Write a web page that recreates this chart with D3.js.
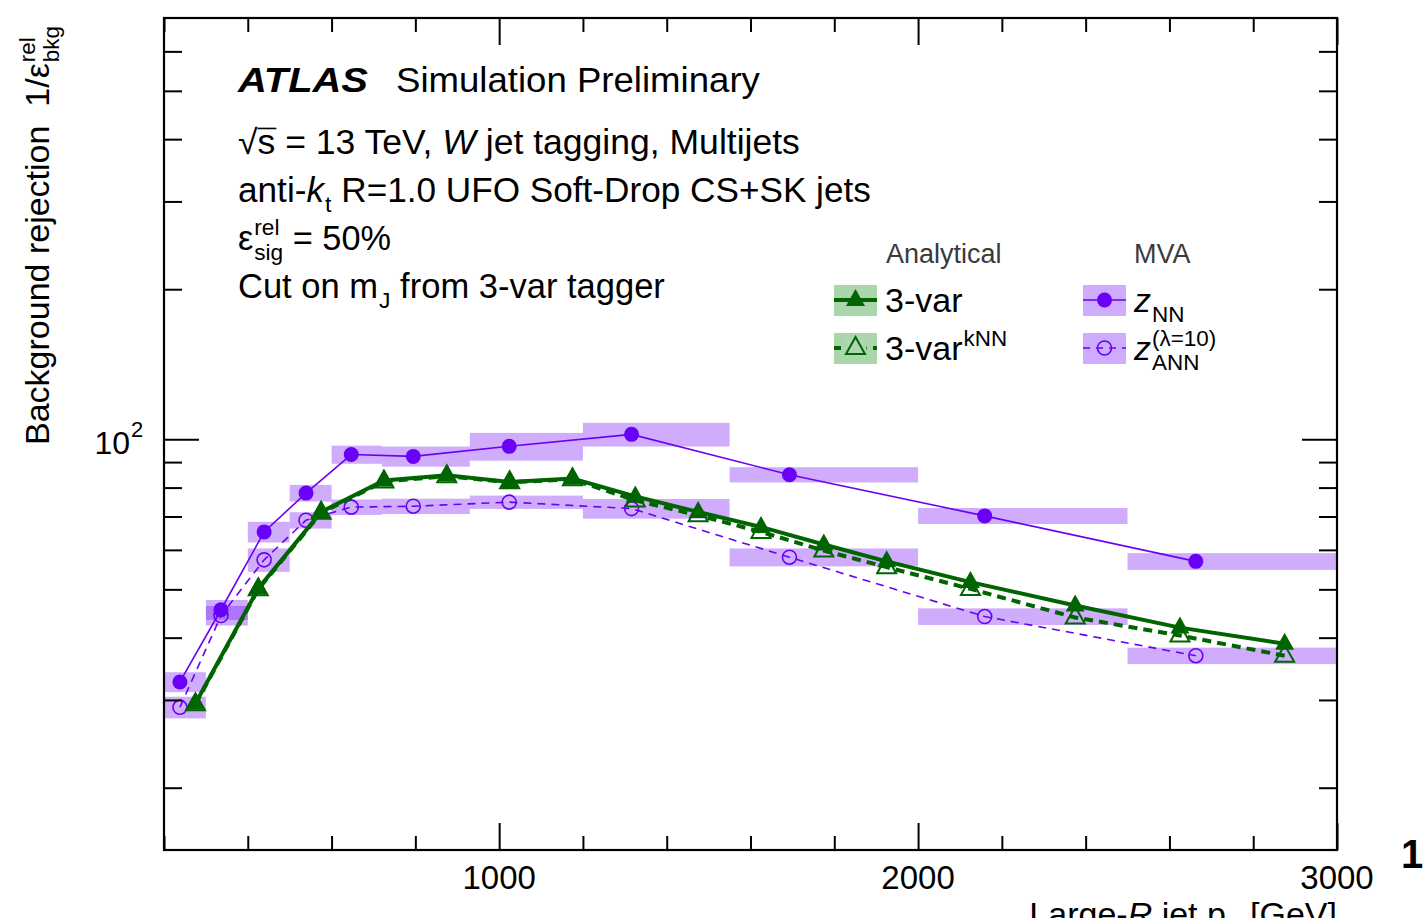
<!DOCTYPE html>
<html>
<head>
<meta charset="utf-8">
<script src="https://cdn.jsdelivr.net/npm/d3@7"></script>
<style>
  body { margin: 0; background: #fff; }
  text { font-family: "Liberation Sans", Arial, Helvetica, sans-serif; white-space: pre; }
</style>
</head>
<body>
<script>
// bins of the MVA taggers (pT edges in GeV) and mean pT per bin
var mvaEdges = [200, 300, 400, 500, 600, 720, 930, 1200, 1550, 2000, 2500, 3000];
var mvaPt = [238, 336, 439, 539, 647, 795, 1024, 1316, 1693, 2159, 2663];
var zNN = [32.6, 45.5, 65.2, 78.0, 93.2, 92.4, 96.8, 102.3, 84.9, 70.2, 56.9];
var zNNerr = [1.5, 2.1, 3.1, 3.0, 3.9, 4.3, 6.2, 5.6, 3.0, 2.6, 2.2];
var zANN = [29.0, 44.3, 57.3, 68.8, 73.1, 73.4, 74.8, 72.6, 58.0, 44.1, 36.8];
var zANNerr = [1.45, 2.0, 3.1, 2.6, 2.6, 2.6, 2.3, 3.3, 2.4, 1.7, 1.4];

// analytical taggers
var anaPt = [275, 425, 575, 725, 875, 1025, 1175, 1325, 1475, 1625, 1775, 1925, 2125, 2375, 2625, 2875];
var threeVar = [29.5, 50.2, 71.5, 82.7, 84.7, 82.1, 83.4, 76.8, 71.5, 66.7, 61.5, 56.9, 51.7, 46.4, 41.9, 38.9];
var threeVarKNN = [29.4, 50.0, 71.2, 82.3, 84.3, 82.0, 83.1, 75.4, 70.4, 65.2, 59.8, 55.4, 50.1, 43.9, 40.4, 36.8];

// ticks
var xMajor = [1000, 2000, 3000];
var xMinor = [200, 400, 600, 800, 1200, 1400, 1600, 1800, 2200, 2400, 2600, 2800];
var xLabels = ['1000', '2000', '3000'];
var yMajor = [100];
var yMinor = [20, 30, 40, 50, 60, 70, 80, 90, 200, 300, 400, 500, 600];

var purple = '#6a00f5';
var green = '#006400';

var svg = d3.select('body').append('svg').attr('width', 1425).attr('height', 918);

var x = d3.scaleLinear().domain([200, 3000]).range([164, 1337]);
var y = d3.scaleLog().domain([15, 700]).range([850, 18]);

// text helper with sub/superscripts
function rich(g, x0, y0, size, pieces) {
    var cx = x0;
    pieces.forEach(function (p) {
        if (p.t) {
            var t = g.append('text').attr('x', cx).attr('y', y0).attr('font-size', size).attr('xml:space', 'preserve').text(p.t);
            if (p.it) t.attr('font-style', 'italic');
            if (p.b) t.attr('font-weight', 'bold');
            var w = t.node().getComputedTextLength();
            if (p.over) {
                g.append('line').attr('x1', cx).attr('x2', cx + w + 1)
                    .attr('y1', y0 - size * 0.74).attr('y2', y0 - size * 0.74)
                    .attr('stroke', 'black').attr('stroke-width', 1.6);
            }
            cx += w;
        }
        var adv = 0;
        if (p.sup) {
            var s = g.append('text').attr('x', cx + 1).attr('y', y0 - size * 0.42).attr('font-size', size * 0.66).text(p.sup);
            adv = Math.max(adv, s.node().getComputedTextLength() + 1);
        }
        if (p.sub) {
            var b = g.append('text').attr('x', cx + 1).attr('y', y0 + size * 0.3).attr('font-size', size * 0.66).text(p.sub);
            adv = Math.max(adv, b.node().getComputedTextLength() + 1);
        }
        cx += adv;
    });
    return cx;
}

// one line of label text, stretched sideways to end at xEnd
function labelLine(x0, y0, size, pieces, xEnd) {
    var g = svg.append('g');
    var end = rich(g, x0, y0, size, pieces);
    var k = (xEnd - x0) / (end - x0);
    g.attr('transform', 'translate(' + x0 + ',0) scale(' + k + ',1) translate(' + (-x0) + ',0)');
}

// error boxes
function boxes(vals, errs) {
    svg.append('g').selectAll('rect').data(vals).enter().append('rect')
        .attr('x', function (d, i) { return x(mvaEdges[i]); })
        .attr('width', function (d, i) { return x(mvaEdges[i + 1]) - x(mvaEdges[i]); })
        .attr('y', function (d, i) { return y(d + errs[i]); })
        .attr('height', function (d, i) { return y(d - errs[i]) - y(d + errs[i]); })
        .attr('fill', purple).attr('fill-opacity', 0.32);
}
boxes(zNN, zNNerr);
boxes(zANN, zANNerr);

var line = d3.line().x(function (d) { return x(d[0]); }).y(function (d) { return y(d[1]); });

function series(xs, ys, color, width, dash) {
    svg.append('path').datum(d3.zip(xs, ys)).attr('d', line)
        .attr('fill', 'none').attr('stroke', color).attr('stroke-width', width)
        .attr('stroke-dasharray', dash);
}

var tri = 'M0,-11L9.5,6L-9.5,6Z';

// MVA
series(mvaPt, zANN, purple, 1.6, '8,6');
svg.append('g').selectAll('circle').data(d3.zip(mvaPt, zANN)).enter().append('circle')
    .attr('cx', function (d) { return x(d[0]); }).attr('cy', function (d) { return y(d[1]); })
    .attr('r', 7).attr('fill', 'none').attr('stroke', purple).attr('stroke-width', 1.6);
series(mvaPt, zNN, purple, 1.6, null);
svg.append('g').selectAll('circle').data(d3.zip(mvaPt, zNN)).enter().append('circle')
    .attr('cx', function (d) { return x(d[0]); }).attr('cy', function (d) { return y(d[1]); })
    .attr('r', 7.5).attr('fill', purple);

// analytical
series(anaPt, threeVarKNN, green, 4, '9,6');
svg.append('g').selectAll('path').data(d3.zip(anaPt, threeVarKNN)).enter().append('path')
    .attr('d', tri).attr('transform', function (d) { return 'translate(' + x(d[0]) + ',' + y(d[1]) + ')'; })
    .attr('fill', 'none').attr('stroke', green).attr('stroke-width', 2);
series(anaPt, threeVar, green, 4, null);
svg.append('g').selectAll('path').data(d3.zip(anaPt, threeVar)).enter().append('path')
    .attr('d', tri).attr('transform', function (d) { return 'translate(' + x(d[0]) + ',' + y(d[1]) + ')'; })
    .attr('fill', green);

// axes (ticks on all sides, pointing inwards)
function ticks(axis, scale, vals, size, tr) {
    var g = svg.append('g').attr('transform', tr)
        .call(axis(scale).tickValues(vals).tickSize(size).tickFormat(''));
    g.select('.domain').remove();
    g.selectAll('line').attr('stroke', 'black').attr('stroke-width', 2);
}
ticks(d3.axisBottom, x, xMajor, -27, 'translate(0,850)');
ticks(d3.axisBottom, x, xMinor, -14, 'translate(0,850)');
ticks(d3.axisTop, x, xMajor, -27, 'translate(0,18)');
ticks(d3.axisTop, x, xMinor, -14, 'translate(0,18)');
ticks(d3.axisLeft, y, yMajor, -35, 'translate(164,0)');
ticks(d3.axisLeft, y, yMinor, -18, 'translate(164,0)');
ticks(d3.axisRight, y, yMajor, -35, 'translate(1337,0)');
ticks(d3.axisRight, y, yMinor, -18, 'translate(1337,0)');

svg.append('rect').attr('x', 164).attr('y', 18).attr('width', 1337 - 164).attr('height', 850 - 18)
    .attr('fill', 'none').attr('stroke', 'black').attr('stroke-width', 2.2);

// tick labels
svg.append('g').selectAll('text').data(xMajor).enter().append('text')
    .attr('x', function (d) { return x(d); }).attr('y', 889).attr('text-anchor', 'middle')
    .attr('font-size', 33).text(function (d, i) { return xLabels[i]; });
var yl = svg.append('g');
yl.append('text').attr('x', 130).attr('y', 454).attr('text-anchor', 'end').attr('font-size', 32).text('10');
yl.append('text').attr('x', 131).attr('y', 437).attr('font-size', 22).text('2');

// axis titles
var yt = svg.append('g').attr('transform', 'translate(49,445) rotate(-90)');
rich(yt, 0, 0, 34, [{ t: 'Background rejection  1/ε', sup: 'rel', sub: 'bkg' }]);

var xt = svg.append('g');
var xEnd = rich(xt, 0, 926, 34, [{ t: 'Large-' }, { t: 'R', it: true }, { t: ' jet p', sub: 'T' }, { t: ' [GeV]' }]);
xt.attr('transform', 'translate(' + (1337 - xEnd) + ',0)');

svg.append('text').attr('x', 1401).attr('y', 868).attr('font-size', 40).attr('font-weight', 'bold').text('1');

// labels inside the frame
labelLine(238, 92, 35, [{ t: 'ATLAS', b: true, it: true }], 368);
labelLine(396, 92, 34.5, [{ t: 'Simulation Preliminary' }], 760);
labelLine(238, 154, 34.5, [{ t: '√' }, { t: 's', over: true }, { t: ' = 13 TeV, ' }, { t: 'W', it: true }, { t: ' jet tagging, Multijets' }], 800);
labelLine(238, 202, 34.5, [{ t: 'anti-' }, { t: 'k', it: true, sub: 't' }, { t: ' R=1.0 UFO Soft-Drop CS+SK jets' }], 871);
labelLine(238, 250, 34.5, [{ t: 'ε', sup: 'rel', sub: 'sig' }, { t: ' = 50%' }], 391);
labelLine(238, 298, 34.5, [{ t: 'Cut on m', sub: 'J' }, { t: ' from 3-var tagger' }], 665);

// legend
var leg = svg.append('g');
leg.append('text').attr('x', 886).attr('y', 263).attr('font-size', 27).attr('fill', '#3a3a3a').text('Analytical');
leg.append('text').attr('x', 1134).attr('y', 263).attr('font-size', 27).attr('fill', '#3a3a3a').text('MVA');

function legBox(bx, cy, fill, color, dash, width, marker) {
    leg.append('rect').attr('x', bx).attr('y', cy - 15).attr('width', 43).attr('height', 31)
        .attr('fill', fill).attr('fill-opacity', 0.33);
    leg.append('line').attr('x1', bx).attr('x2', bx + 43).attr('y1', cy).attr('y2', cy)
        .attr('stroke', color).attr('stroke-width', width).attr('stroke-dasharray', dash);
    marker(bx + 21.5, cy);
}
legBox(834, 300, '#008000', green, null, 4, function (mx, my) {
    leg.append('path').attr('d', tri).attr('transform', 'translate(' + mx + ',' + my + ')').attr('fill', green);
});
legBox(834, 348, '#008000', green, '7,6', 4, function (mx, my) {
    leg.append('rect').attr('x', mx - 11).attr('y', my - 12).attr('width', 22).attr('height', 20).attr('fill', '#b0d6b0');
    leg.append('path').attr('d', tri).attr('transform', 'translate(' + mx + ',' + my + ')')
        .attr('fill', 'none').attr('stroke', green).attr('stroke-width', 2);
});
legBox(1083, 300, purple, purple, null, 1.6, function (mx, my) {
    leg.append('circle').attr('cx', mx).attr('cy', my).attr('r', 7.5).attr('fill', purple);
});
legBox(1083, 348, purple, purple, '7,6', 1.6, function (mx, my) {
    leg.append('circle').attr('cx', mx).attr('cy', my).attr('r', 7).attr('fill', 'none').attr('stroke', purple).attr('stroke-width', 1.6);
});
rich(leg, 885, 312, 34, [{ t: '3-var' }]);
rich(leg, 885, 360, 34, [{ t: '3-var', sup: 'kNN' }]);
rich(leg, 1134, 312, 34, [{ t: 'z', it: true, sub: 'NN' }]);
rich(leg, 1134, 360, 34, [{ t: 'z', it: true, sup: '(λ=10)', sub: 'ANN' }]);
</script>
</body>
</html>
